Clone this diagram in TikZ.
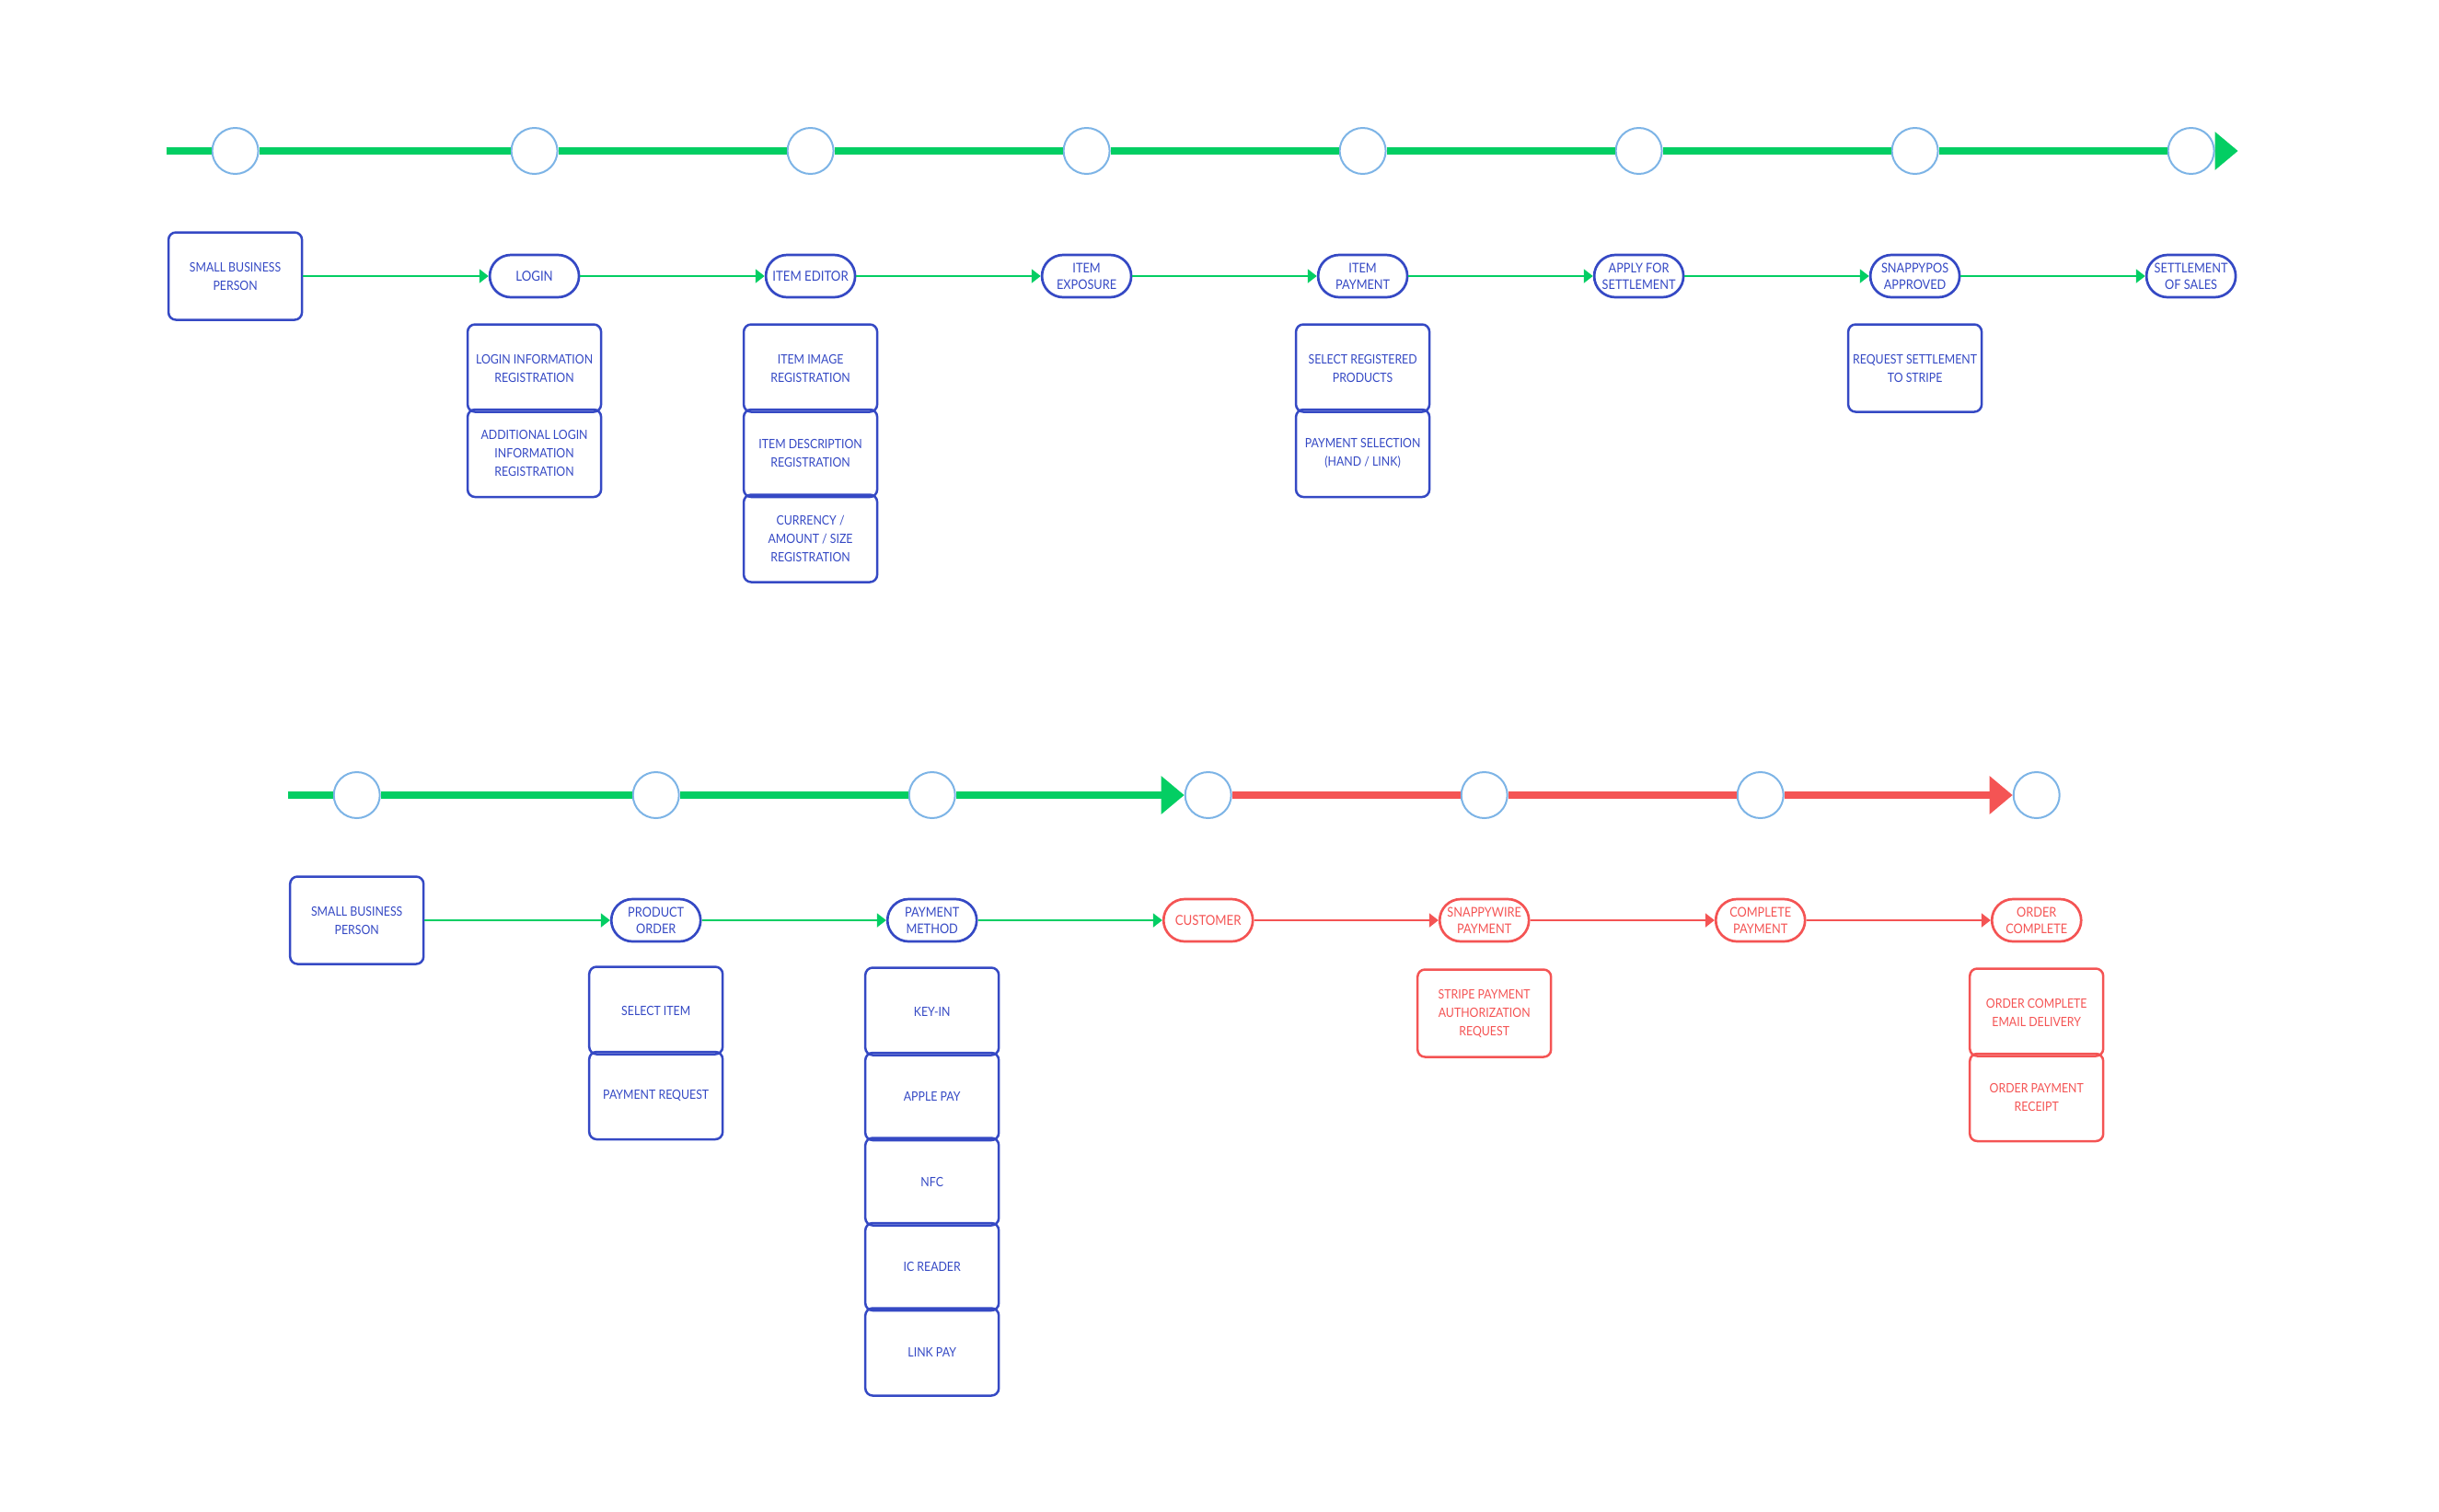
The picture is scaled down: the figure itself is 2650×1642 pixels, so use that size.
\documentclass[tikz,border=0pt]{standalone}
\usepackage{fontspec}
\setmainfont{Lato}[FakeStretch=0.88]
\usetikzlibrary{arrows.meta}
\definecolor{ink}{HTML}{3549C4}
\definecolor{go}{HTML}{03CE63}
\definecolor{stop}{HTML}{F45454}
\definecolor{ring}{HTML}{7DB4E6}
\begin{document}
\begin{tikzpicture}[x=1pt, y=-1pt, node distance={300pt}, >={Triangle[length=10pt,width=15pt]},
    dot/.style = {draw=ring, line width=2pt, fill=white, circle, minimum size=50pt, inner sep=0pt},
    pill/.style = {draw=ink, text=ink, line width=2.7pt, rounded corners=23pt, minimum width=97pt, minimum height=46pt, inner sep=1pt, align=center, font=\fontsize{14.5}{18}\selectfont},
    big/.style = {font=\fontsize{15}{18}\selectfont},
    card/.style = {draw=ink, text=ink, line width=2.5pt, rounded corners=8pt, minimum width=145pt, minimum height=95pt, inner sep=2pt, align=center, font=\fontsize{14}{20}\selectfont},
    warm/.style = {draw=stop, text=stop},
    track/.style = {line width=8pt, go},
    flow/.style = {line width=2pt, go, ->}]
    \useasboundingbox (0,0) rectangle (2650,1642);
    % seller flow
    \node[card] (1) at (255.6,300) {SMALL BUSINESS\\PERSON};
    \node[pill, big] (2) [right of=1, node distance=325pt] {LOGIN};
    \node[pill, big] (3) [right of=2] {ITEM EDITOR};
    \node[pill] (4) [right of=3] {ITEM\\EXPOSURE};
    \node[pill] (5) [right of=4] {ITEM\\PAYMENT};
    \node[pill] (6) [right of=5] {APPLY FOR\\SETTLEMENT};
    \node[pill] (7) [right of=6] {SNAPPYPOS\\APPROVED};
    \node[pill] (8) [right of=7] {SETTLEMENT\\OF SALES};
    \node[card] (2a) [below of=2, node distance=100pt] {LOGIN INFORMATION\\REGISTRATION};
    \node[card] (2b) [below of=2a, node distance=92.5pt] {ADDITIONAL LOGIN\\INFORMATION\\REGISTRATION};
    \node[card] (3a) [below of=3, node distance=100pt] {ITEM IMAGE\\REGISTRATION};
    \node[card] (3b) [below of=3a, node distance=92.5pt] {ITEM DESCRIPTION\\REGISTRATION};
    \node[card] (3c) [below of=3b, node distance=92.5pt] {CURRENCY /\\AMOUNT / SIZE\\REGISTRATION};
    \node[card] (5a) [below of=5, node distance=100pt] {SELECT REGISTERED\\PRODUCTS};
    \node[card] (5b) [below of=5a, node distance=92.5pt] {PAYMENT SELECTION\\(HAND / LINK)};
    \node[card] (7a) [below of=7, node distance=100pt] {REQUEST SETTLEMENT\\TO STRIPE};
    \node[dot] (t1) [above of=1, node distance=136pt] {};
    \node[dot] (t2) [above of=2, node distance=136pt] {};
    \node[dot] (t3) [above of=3, node distance=136pt] {};
    \node[dot] (t4) [above of=4, node distance=136pt] {};
    \node[dot] (t5) [above of=5, node distance=136pt] {};
    \node[dot] (t6) [above of=6, node distance=136pt] {};
    \node[dot] (t7) [above of=7, node distance=136pt] {};
    \node[dot] (t8) [above of=8, node distance=136pt] {};
    \coordinate (s1) at ([xshift=-75pt]t1.center);
    \coordinate (e1) at ([xshift=51pt]t8.center);
    \draw[track] (s1) -- (t1) (t1) -- (t2) (t2) -- (t3) (t3) -- (t4) (t4) -- (t5) (t5) -- (t6) (t6) -- (t7) (t7) -- (t8);
    \draw[track, -{Triangle[length=25pt,width=40pt]}] (t8) -- (e1);
    \draw[flow] (1) to (2);
    \draw[flow] (2) to (3);
    \draw[flow] (3) to (4);
    \draw[flow] (4) to (5);
    \draw[flow] (5) to (6);
    \draw[flow] (6) to (7);
    \draw[flow] (7) to (8);
    % customer flow
    \node[card] (9) at (387.7,1000) {SMALL BUSINESS\\PERSON};
    \node[pill] (10) [right of=9, node distance=325pt] {PRODUCT\\ORDER};
    \node[pill] (11) [right of=10] {PAYMENT\\METHOD};
    \node[pill, big, warm] (12) [right of=11] {CUSTOMER};
    \node[pill, warm] (13) [right of=12] {SNAPPYWIRE\\PAYMENT};
    \node[pill, warm] (14) [right of=13] {COMPLETE\\PAYMENT};
    \node[pill, warm] (15) [right of=14] {ORDER\\COMPLETE};
    \node[card] (10a) [below of=10, node distance=98pt] {SELECT ITEM};
    \node[card] (10b) [below of=10a, node distance=92.5pt] {PAYMENT REQUEST};
    \node[card] (11a) [below of=11, node distance=99pt] {KEY-IN};
    \node[card] (11b) [below of=11a, node distance=92.5pt] {APPLE PAY};
    \node[card] (11c) [below of=11b, node distance=92.5pt] {NFC};
    \node[card] (11d) [below of=11c, node distance=92.5pt] {IC READER};
    \node[card] (11e) [below of=11d, node distance=92.5pt] {LINK PAY};
    \node[card, warm] (13a) [below of=13, node distance=101pt] {STRIPE PAYMENT\\AUTHORIZATION\\REQUEST};
    \node[card, warm] (15a) [below of=15, node distance=100pt] {ORDER COMPLETE\\EMAIL DELIVERY};
    \node[card, warm] (15b) [below of=15a, node distance=92.5pt] {ORDER PAYMENT\\RECEIPT};
    \node[dot] (u1) [above of=9, node distance=136pt] {};
    \node[dot] (u2) [above of=10, node distance=136pt] {};
    \node[dot] (u3) [above of=11, node distance=136pt] {};
    \node[dot] (u4) [above of=12, node distance=136pt] {};
    \node[dot] (u5) [above of=13, node distance=136pt] {};
    \node[dot] (u6) [above of=14, node distance=136pt] {};
    \node[dot] (u7) [above of=15, node distance=136pt] {};
    \coordinate (s2) at ([xshift=-75pt]u1.center);
    \draw[track] (s2) -- (u1) (u1) -- (u2) (u2) -- (u3);
    \draw[track, -{Triangle[length=25pt,width=40pt]}] (u3) -- (u4);
    \draw[track, stop] (u4) -- (u5) (u5) -- (u6);
    \draw[track, stop, -{Triangle[length=25pt,width=40pt]}] (u6) -- (u7);
    \draw[flow] (9) to (10);
    \draw[flow] (10) to (11);
    \draw[flow] (11) to (12);
    \draw[flow, stop] (12) to (13);
    \draw[flow, stop] (13) to (14);
    \draw[flow, stop] (14) to (15);
\end{tikzpicture}
\end{document}
